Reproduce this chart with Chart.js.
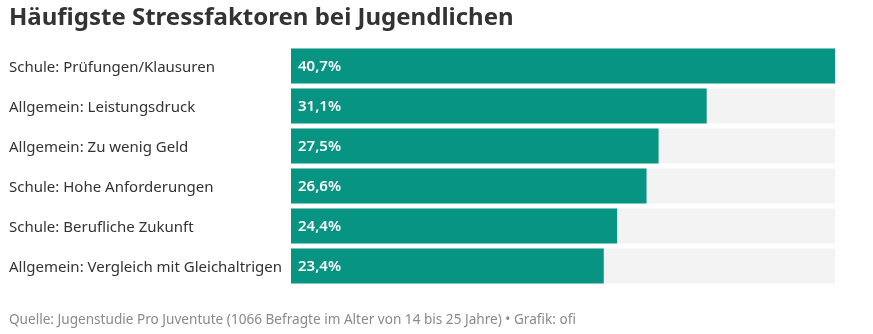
<!DOCTYPE html>
<html>
<head>
<meta charset="utf-8">
<script src="https://cdn.jsdelivr.net/npm/chart.js@4"></script>
<style>
  html, body { margin: 0; padding: 0; background: #fff; }
  #wrap { width: 873px; height: 334px; position: relative; }
</style>
</head>
<body>
<div id="wrap"><canvas id="c"></canvas></div>
<script>
// Stress factors among young people, share of respondents in percent
const categories = [
  'Schule: Prüfungen/Klausuren',
  'Allgemein: Leistungsdruck',
  'Allgemein: Zu wenig Geld',
  'Schule: Hohe Anforderungen',
  'Schule: Berufliche Zukunft',
  'Allgemein: Vergleich mit Gleichaltrigen'
];
const shares = [40.7, 31.1, 27.5, 26.6, 24.4, 23.4];
const valueLabels = ['40,7%', '31,1%', '27,5%', '26,6%', '24,4%', '23,4%'];
const scaleMax = 40.7;
const track = categories.map(() => scaleMax);

const FONT = "'Noto Sans', 'DejaVu Sans', sans-serif";
const TEAL = '#079482';

// Writes the percentage inside each bar, near its start
const barValues = {
  id: 'barValues',
  afterDatasetsDraw(chart) {
    const ctx = chart.ctx;
    const meta = chart.getDatasetMeta(1);
    ctx.save();
    ctx.fillStyle = '#ffffff';
    ctx.font = '600 15px ' + FONT;
    ctx.textAlign = 'left';
    ctx.textBaseline = 'middle';
    meta.data.forEach((bar, i) => {
      ctx.fillText(valueLabels[i], bar.base + 7, bar.y + 1);
    });
    ctx.restore();
  }
};

new Chart(document.getElementById('c'), {
  type: 'bar',
  data: {
    labels: categories,
    datasets: [
      {
        data: track,
        backgroundColor: '#f3f3f3',
        grouped: false,
        order: 2,
        barPercentage: 1,
        categoryPercentage: 0.875
      },
      {
        data: shares,
        backgroundColor: TEAL,
        grouped: false,
        order: 1,
        barPercentage: 1,
        categoryPercentage: 0.875
      }
    ]
  },
  options: {
    indexAxis: 'y',
    responsive: true,
    maintainAspectRatio: false,
    animation: false,
    layout: { padding: { left: 9, right: 38, top: 0, bottom: 0 } },
    scales: {
      x: { display: false, min: 0, max: scaleMax },
      y: {
        grid: { display: false },
        border: { display: false },
        ticks: {
          crossAlign: 'far',
          color: '#333333',
          font: { family: FONT, size: 15 },
          padding: 0,
          labelOffset: 2
        },
        afterFit(scale) { scale.width = 282; }
      }
    },
    plugins: {
      legend: { display: false },
      tooltip: { enabled: false },
      title: {
        display: true,
        text: 'Häufigste Stressfaktoren bei Jugendlichen',
        align: 'start',
        color: '#333333',
        font: { family: FONT, size: 24, weight: 'bold' },
        padding: { top: 4, bottom: 13.2 }
      },
      subtitle: {
        display: true,
        position: 'bottom',
        text: 'Quelle: Jugenstudie Pro Juventute (1066 Befragte im Alter von 14 bis 25 Jahre) • Grafik: ofi',
        align: 'start',
        color: '#8a8a8a',
        font: { family: FONT, size: 13.6 },
        padding: { top: 25.8, bottom: 5.8 }
      }
    }
  },
  plugins: [barValues]
});
</script>
</body>
</html>
